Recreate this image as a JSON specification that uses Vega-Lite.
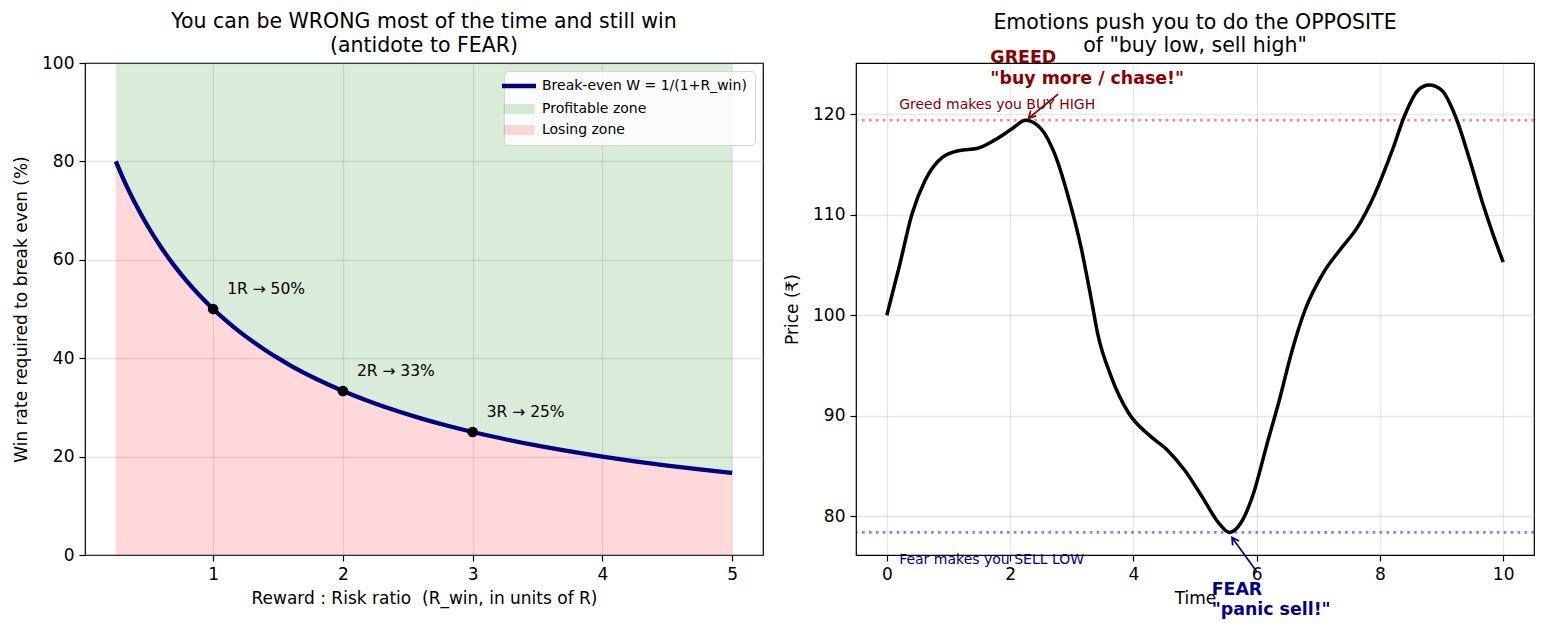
{
  "$schema": "https://vega.github.io/schema/vega-lite/v6.json",
  "padding": {"left": 11, "top": 11, "right": 13, "bottom": 0},
  "background": "white",
  "config": {
    "font": "DejaVu Sans",
    "view": {"stroke": "black", "strokeWidth": 1.2},
    "axis": {
      "labelFont": "DejaVu Sans",
      "labelFontSize": 17,
      "labelColor": "black",
      "labelPadding": 5,
      "titleFont": "DejaVu Sans",
      "titleFontSize": 17,
      "titleFontWeight": "normal",
      "titleColor": "black",
      "tickColor": "black",
      "tickSize": 6,
      "tickWidth": 1.2,
      "domain": false,
      "grid": true,
      "gridColor": "#b0b0b0",
      "gridOpacity": 0.3,
      "gridWidth": 1.3
    },
    "axisX": {"titlePadding": 8},
    "axisY": {"titlePadding": 11},
    "title": {"font": "DejaVu Sans", "fontSize": 20.5, "fontWeight": "normal", "color": "black", "lineHeight": 23.5},
    "concat": {"spacing": 18}
  },
  "resolve": {"scale": {"color": "independent"}, "legend": {"color": "independent"}},
  "datasets": {
    "breakeven": [
      {"R": 0.25, "W": 80.0}, {"R": 0.3, "W": 76.92}, {"R": 0.35, "W": 74.07}, {"R": 0.4, "W": 71.43},
      {"R": 0.5, "W": 66.67}, {"R": 0.6, "W": 62.5}, {"R": 0.7, "W": 58.82}, {"R": 0.8, "W": 55.56},
      {"R": 0.9, "W": 52.63}, {"R": 1.0, "W": 50.0}, {"R": 1.1, "W": 47.62}, {"R": 1.2, "W": 45.45},
      {"R": 1.3, "W": 43.48}, {"R": 1.4, "W": 41.67}, {"R": 1.5, "W": 40.0}, {"R": 1.6, "W": 38.46},
      {"R": 1.8, "W": 35.71}, {"R": 2.0, "W": 33.33}, {"R": 2.2, "W": 31.25}, {"R": 2.4, "W": 29.41},
      {"R": 2.6, "W": 27.78}, {"R": 2.8, "W": 26.32}, {"R": 3.0, "W": 25.0}, {"R": 3.25, "W": 23.53},
      {"R": 3.5, "W": 22.22}, {"R": 3.75, "W": 21.05}, {"R": 4.0, "W": 20.0}, {"R": 4.25, "W": 19.05},
      {"R": 4.5, "W": 18.18}, {"R": 4.75, "W": 17.39}, {"R": 5.0, "W": 16.67}
    ],
    "marked": [
      {"R": 1, "W": 50.0, "label": "1R → 50%"},
      {"R": 2, "W": 33.33, "label": "2R → 33%"},
      {"R": 3, "W": 25.0, "label": "3R → 25%"}
    ],
    "price": [
      {"t": 0, "p": 100.0}, {"t": 0.2, "p": 104.8}, {"t": 0.41, "p": 110.1}, {"t": 0.62, "p": 113.4},
      {"t": 0.9, "p": 115.7}, {"t": 1.18, "p": 116.4}, {"t": 1.46, "p": 116.6}, {"t": 1.74, "p": 117.4},
      {"t": 2.02, "p": 118.5}, {"t": 2.25, "p": 119.4}, {"t": 2.51, "p": 118.5}, {"t": 2.72, "p": 116.1},
      {"t": 2.93, "p": 112.1}, {"t": 3.15, "p": 106.8}, {"t": 3.32, "p": 101.5}, {"t": 3.42, "p": 98.2},
      {"t": 3.64, "p": 93.9}, {"t": 3.92, "p": 90.3}, {"t": 4.27, "p": 88.0}, {"t": 4.55, "p": 86.6},
      {"t": 4.83, "p": 84.6}, {"t": 5.11, "p": 82.0}, {"t": 5.39, "p": 79.3}, {"t": 5.56, "p": 78.4},
      {"t": 5.74, "p": 79.3}, {"t": 5.95, "p": 82.3}, {"t": 6.16, "p": 87.0}, {"t": 6.37, "p": 91.6},
      {"t": 6.58, "p": 96.6}, {"t": 6.79, "p": 100.6}, {"t": 7.07, "p": 104.1}, {"t": 7.35, "p": 106.5},
      {"t": 7.64, "p": 108.8}, {"t": 7.92, "p": 112.1}, {"t": 8.2, "p": 116.4}, {"t": 8.41, "p": 120.0},
      {"t": 8.62, "p": 122.4}, {"t": 8.8, "p": 122.9}, {"t": 9.0, "p": 122.4}, {"t": 9.25, "p": 119.4},
      {"t": 9.46, "p": 115.4}, {"t": 9.67, "p": 111.1}, {"t": 9.85, "p": 107.8}, {"t": 10, "p": 105.3}
    ],
    "levels": [
      {"kind": "greed", "p": 119.4},
      {"kind": "fear", "p": 78.4}
    ],
    "notes": [
      {"kind": "greed", "t": 0.2, "p": 120.9, "text": "Greed makes you BUY HIGH"},
      {"kind": "fear", "t": 0.2, "p": 75.7, "text": "Fear makes you SELL LOW"}
    ],
    "callouts": [
      {"kind": "greed", "t": 1.68, "p": 125.6, "text": "GREED"},
      {"kind": "greed", "t": 1.68, "p": 123.5, "text": "\"buy more / chase!\""},
      {"kind": "fear", "t": 5.27, "p": 72.7, "text": "FEAR"},
      {"kind": "fear", "t": 5.27, "p": 70.7, "text": "\"panic sell!\""}
    ],
    "arrows": [
      {"kind": "greed", "t": 2.78, "p": 122.0, "t2": 2.3, "p2": 119.6},
      {"kind": "fear", "t": 6.0, "p": 74.5, "t2": 5.6, "p2": 77.9}
    ]
  },
  "hconcat": [
    {
      "width": 678,
      "height": 492,
      "title": {"text": ["You can be WRONG most of the time and still win", "(antidote to FEAR)"], "offset": -2},
      "data": {"name": "breakeven"},
      "encoding": {
        "x": {
          "field": "R", "type": "quantitative",
          "scale": {"domain": [0.0125, 5.2375], "nice": false, "zero": false},
          "axis": {"values": [1, 2, 3, 4, 5], "format": "d", "title": "Reward : Risk ratio \u00a0(R_win, in units of R)"}
        },
        "y": {
          "field": "W", "type": "quantitative",
          "scale": {"domain": [0, 100], "nice": false},
          "axis": {"values": [0, 20, 40, 60, 80, 100], "title": "Win rate required to break even (%)"}
        }
      },
      "layer": [
        {
          "mark": {"type": "area", "strokeOpacity": 0},
          "encoding": {
            "y2": {"datum": 100},
            "color": {
              "datum": "Profitable zone", "type": "nominal",
              "scale": {
                "domain": ["Break-even W = 1/(1+R_win)", "Profitable zone", "Losing zone"],
                "range": ["navy", "rgba(0,128,0,0.15)", "rgba(255,0,0,0.15)"]
              },
              "legend": {
                "title": null,
                "orient": "top-right",
                "offset": 8,
                "padding": 8,
                "fillColor": "rgba(255,255,255,0.85)",
                "strokeColor": "#d6d6d6",
                "cornerRadius": 4,
                "labelFont": "DejaVu Sans",
                "labelFontSize": 14,
                "labelColor": "black",
                "labelLimit": 400,
                "labelOffset": 16,
                "rowPadding": 7,
                "symbolSize": 400,
                "symbolType": "square",
                "encoding": {
                  "symbols": {
                    "shape": {"value": {"expr": "datum.value === 'Profitable zone' || datum.value === 'Losing zone' ? 'M-1.55,-0.5H1.55V0.5H-1.55Z' : 'M-1.7,0H1.7'"}},
                    "strokeWidth": {"value": {"expr": "datum.value === 'Profitable zone' || datum.value === 'Losing zone' ? 0 : 4.3"}},
                    "opacity": {"value": 1}
                  }
                }
              }
            }
          }
        },
        {
          "mark": {"type": "area", "strokeOpacity": 0},
          "encoding": {
            "y2": {"datum": 0},
            "color": {"datum": "Losing zone", "type": "nominal"}
          }
        },
        {
          "mark": {"type": "line", "strokeWidth": 4.3, "interpolate": "monotone"},
          "encoding": {
            "color": {"datum": "Break-even W = 1/(1+R_win)", "type": "nominal"}
          }
        },
        {
          "data": {"name": "marked"},
          "mark": {"type": "circle", "color": "black", "size": 113, "opacity": 1}
        },
        {
          "data": {"name": "marked"},
          "mark": {"type": "text", "align": "left", "baseline": "middle", "dx": 14, "dy": -20, "fontSize": 15.5, "color": "black"},
          "encoding": {"text": {"field": "label"}}
        }
      ]
    },
    {
      "width": 678,
      "height": 492,
      "title": {"text": ["Emotions push you to do the OPPOSITE", "of \"buy low, sell high\""], "offset": -8},
      "encoding": {
        "x": {
          "type": "quantitative",
          "scale": {"domain": [-0.5, 10.5], "nice": false, "zero": false},
          "axis": {"values": [0, 2, 4, 6, 8, 10], "title": "Time"}
        },
        "y": {
          "type": "quantitative",
          "scale": {"domain": [76.15, 125.1], "nice": false, "zero": false},
          "axis": {"values": [80, 90, 100, 110, 120], "title": "Price (₹)"}
        }
      },
      "layer": [
        {
          "data": {"name": "levels"},
          "transform": [{"filter": "datum.kind === 'greed'"}],
          "mark": {"type": "rule", "color": "red", "opacity": 0.5, "strokeWidth": 2.6, "strokeDash": [2.6, 4.3]},
          "encoding": {"y": {"field": "p"}}
        },
        {
          "data": {"name": "levels"},
          "transform": [{"filter": "datum.kind === 'fear'"}],
          "mark": {"type": "rule", "color": "blue", "opacity": 0.5, "strokeWidth": 2.6, "strokeDash": [2.6, 4.3]},
          "encoding": {"y": {"field": "p"}}
        },
        {
          "data": {"name": "price"},
          "mark": {"type": "line", "color": "black", "strokeWidth": 3.5, "interpolate": "monotone"},
          "encoding": {"x": {"field": "t"}, "y": {"field": "p"}}
        },
        {
          "data": {"name": "notes"},
          "transform": [{"filter": "datum.kind === 'greed'"}],
          "mark": {"type": "text", "align": "left", "baseline": "middle", "fontSize": 14, "color": "darkred"},
          "encoding": {"x": {"field": "t"}, "y": {"field": "p"}, "text": {"field": "text"}}
        },
        {
          "data": {"name": "notes"},
          "transform": [{"filter": "datum.kind === 'fear'"}],
          "mark": {"type": "text", "align": "left", "baseline": "middle", "fontSize": 14, "color": "darkblue"},
          "encoding": {"x": {"field": "t"}, "y": {"field": "p"}, "text": {"field": "text"}}
        },
        {
          "data": {"name": "callouts"},
          "transform": [{"filter": "datum.kind === 'greed'"}],
          "mark": {"type": "text", "align": "left", "baseline": "middle", "fontSize": 17.4, "fontWeight": "bold", "color": "darkred"},
          "encoding": {"x": {"field": "t"}, "y": {"field": "p"}, "text": {"field": "text"}}
        },
        {
          "data": {"name": "callouts"},
          "transform": [{"filter": "datum.kind === 'fear'"}],
          "mark": {"type": "text", "align": "left", "baseline": "middle", "fontSize": 17.4, "fontWeight": "bold", "color": "darkblue"},
          "encoding": {"x": {"field": "t"}, "y": {"field": "p"}, "text": {"field": "text"}}
        },
        {
          "data": {"name": "arrows"},
          "transform": [{"filter": "datum.kind === 'greed'"}],
          "mark": {"type": "rule", "color": "darkred", "strokeWidth": 1.7},
          "encoding": {"x": {"field": "t"}, "y": {"field": "p"}, "x2": {"field": "t2"}, "y2": {"field": "p2"}}
        },
        {
          "data": {"name": "arrows"},
          "transform": [{"filter": "datum.kind === 'greed'"}],
          "mark": {"type": "point", "shape": "M-0.55,1L0,0L0.55,1", "filled": false, "color": "darkred", "strokeWidth": 1.7, "size": 196, "angle": 224, "opacity": 1},
          "encoding": {"x": {"field": "t2"}, "y": {"field": "p2"}}
        },
        {
          "data": {"name": "arrows"},
          "transform": [{"filter": "datum.kind === 'fear'"}],
          "mark": {"type": "rule", "color": "darkblue", "strokeWidth": 1.7},
          "encoding": {"x": {"field": "t"}, "y": {"field": "p"}, "x2": {"field": "t2"}, "y2": {"field": "p2"}}
        },
        {
          "data": {"name": "arrows"},
          "transform": [{"filter": "datum.kind === 'fear'"}],
          "mark": {"type": "point", "shape": "M-0.55,1L0,0L0.55,1", "filled": false, "color": "darkblue", "strokeWidth": 1.7, "size": 196, "angle": 326, "opacity": 1},
          "encoding": {"x": {"field": "t2"}, "y": {"field": "p2"}}
        }
      ]
    }
  ]
}
